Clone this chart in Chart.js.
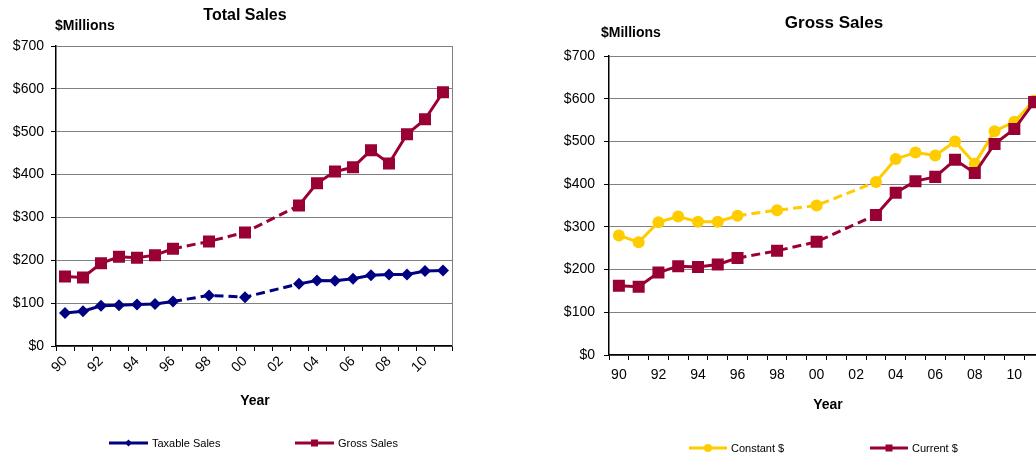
<!DOCTYPE html>
<html>
<head>
<meta charset="utf-8">
<title>Sales</title>
<script src="https://cdn.jsdelivr.net/npm/chart.js@4/dist/chart.umd.min.js"></script>
<style>
  html, body { margin: 0; padding: 0; background: #fff; overflow: hidden; }
  body { width: 1036px; height: 453px; position: relative; }
  #totalBox { position: absolute; left: 0; top: 0; }
  #grossBox { position: absolute; left: 560px; top: 0; }
</style>
</head>
<body>
<div id="totalBox"><canvas id="totalChart" width="470" height="453"></canvas></div>
<div id="grossBox"><canvas id="grossChart" width="500" height="453"></canvas></div>
<script>
// Fiscal years 1990-2011, two-digit labels
const years = ["90", "91", "92", "93", "94", "95", "96", "97", "98", "99", "00",
  "01", "02", "03", "04", "05", "06", "07", "08", "09", "10", "11"];

// $ millions, null where no figure was published
const taxableSales = [77, 81, 94, 95, 97, 98, 104, null, 118, null, 114,
  null, null, 145, 153, 152, 157, 165, 167, 167, 175, 176];
const grossSales = [162, 160, 193, 208, 206, 212, 227, null, 244, null, 265,
  null, null, 328, 380, 407, 417, 457, 426, 494, 529, 592];
const constantDollars = [280, 264, 311, 324, 312, 312, 326, null, 339, null, 350,
  null, null, 405, 459, 474, 467, 500, 448, 524, 546, 596];

const yTicks = [0, 100, 200, 300, 400, 500, 600, 700];

const FONT = "'Liberation Sans', Arial, sans-serif";
const MAROON = "#990033";
const NAVY = "#000080";
const GOLD = "#FFCC00";

// dashed where the line bridges missing years
const gapDash = (ctx) => (ctx.p0.skip || ctx.p1.skip ? [9, 5] : undefined);

function series(label, data, color, style, radius, order) {
  return {
    label: label,
    data: data,
    borderColor: color,
    backgroundColor: color,
    borderWidth: 3,
    pointStyle: style,
    pointRadius: radius,
    pointBorderWidth: 0,
    pointBackgroundColor: color,
    spanGaps: true,
    tension: 0,
    order: order,
    segment: { borderDash: gapDash },
  };
}

function drawMarker(ctx, style, x, y, r) {
  ctx.beginPath();
  if (style === "rect") {
    ctx.rect(x - r, y - r, 2 * r, 2 * r);
  } else if (style === "rectRot") {
    ctx.moveTo(x, y - r);
    ctx.lineTo(x + r, y);
    ctx.lineTo(x, y + r);
    ctx.lineTo(x - r, y);
    ctx.closePath();
  } else {
    ctx.arc(x, y, r, 0, Math.PI * 2);
  }
  ctx.fill();
}

// titles, unit label, axis title, legend and plot frame
const chartDecor = {
  id: "chartDecor",
  beforeDatasetsDraw(chart, args, opts) {
    if (!opts.frame) return;
    const { ctx, chartArea: a } = chart;
    ctx.save();
    ctx.strokeStyle = "#808080";
    ctx.lineWidth = 1;
    ctx.beginPath();
    ctx.moveTo(Math.round(a.right) + 0.5, a.top);
    ctx.lineTo(Math.round(a.right) + 0.5, a.bottom);
    ctx.stroke();
    ctx.restore();
  },
  afterDraw(chart, args, opts) {
    const { ctx } = chart;
    ctx.save();
    ctx.fillStyle = "#000";
    ctx.textBaseline = "middle";

    ctx.textAlign = "center";
    ctx.font = "bold " + opts.titleSize + "px " + FONT;
    ctx.fillText(opts.title, opts.titleX, opts.titleY);

    ctx.font = "bold 14px " + FONT;
    ctx.fillText("Year", opts.yearX, opts.yearY);

    ctx.textAlign = "left";
    ctx.fillText("$Millions", opts.unitX, opts.unitY);

    ctx.font = "11px " + FONT;
    opts.legend.forEach((item, i) => {
      const ds = chart.data.datasets[i];
      const y = opts.legendY;
      ctx.strokeStyle = ds.borderColor;
      ctx.fillStyle = ds.borderColor;
      ctx.lineWidth = 3;
      ctx.beginPath();
      ctx.moveTo(item.x0, y);
      ctx.lineTo(item.x1, y);
      ctx.stroke();
      drawMarker(ctx, ds.pointStyle, (item.x0 + item.x1) / 2, y, ds.pointStyle === "circle" ? 4 : 3.5);
      ctx.fillStyle = "#000";
      ctx.fillText(ds.label, item.x1 + 4, y + 1);
    });
    ctx.restore();
  },
};

function scales(yWidth, xHeight, rotated, yPad) {
  return {
    x: {
      offset: true,
      grid: {
        offset: true,
        drawOnChartArea: false,
        drawTicks: true,
        tickLength: 5,
        tickColor: "#000",
      },
      border: { color: "#000", width: 1.5 },
      ticks: {
        autoSkip: false,
        minRotation: rotated ? 45 : 0,
        maxRotation: rotated ? 45 : 0,
        padding: rotated ? 2 : 7,
        color: "#000",
        font: { family: FONT, size: 14 },
        callback: (v, i) => (i % 2 === 0 ? years[i] : ""),
      },
      afterFit: (s) => { s.height = xHeight; },
    },
    y: {
      min: yTicks[0],
      max: yTicks[yTicks.length - 1],
      afterBuildTicks: (s) => { s.ticks = yTicks.map((v) => ({ value: v })); },
      grid: { color: "#808080", lineWidth: 1, tickColor: "#000", tickLength: 5 },
      border: { color: "#000", width: 1.5 },
      ticks: {
        padding: yPad,
        color: "#000",
        font: { family: FONT, size: 14 },
        callback: (v) => "$" + v,
      },
      afterFit: (s) => { s.width = yWidth; },
    },
  };
}

new Chart(document.getElementById("totalChart"), {
  type: "line",
  data: {
    labels: years,
    datasets: [
      series("Taxable Sales", taxableSales, NAVY, "rectRot", 6, 0),
      series("Gross Sales", grossSales, MAROON, "rect", 8.5, 1),
    ],
  },
  options: {
    responsive: false,
    animation: false,
    events: [],
    layout: { padding: { top: 46, right: 18, left: 0, bottom: 0 } },
    scales: scales(56, 107, true, 7),
    plugins: {
      legend: { display: false },
      tooltip: { enabled: false },
      chartDecor: {
        frame: true,
        title: "Total Sales",
        titleSize: 16,
        titleX: 245,
        titleY: 16,
        unitX: 55,
        unitY: 26,
        yearX: 255,
        yearY: 401,
        legendY: 443,
        legend: [{ x0: 109, x1: 148 }, { x0: 295, x1: 334 }],
      },
    },
  },
  plugins: [chartDecor],
});

new Chart(document.getElementById("grossChart"), {
  type: "line",
  data: {
    labels: years,
    datasets: [
      series("Constant $", constantDollars, GOLD, "circle", 6, 1),
      series("Current $", grossSales, MAROON, "rect", 8.5, 0),
    ],
  },
  options: {
    responsive: false,
    animation: false,
    events: [],
    layout: { padding: { top: 56, right: 16, left: 0, bottom: 0 } },
    scales: scales(49, 98, false, 9),
    plugins: {
      legend: { display: false },
      tooltip: { enabled: false },
      chartDecor: {
        frame: false,
        title: "Gross Sales",
        titleSize: 17,
        titleX: 274,
        titleY: 23,
        unitX: 41,
        unitY: 33,
        yearX: 268,
        yearY: 405,
        legendY: 448,
        legend: [{ x0: 129, x1: 167 }, { x0: 310, x1: 348 }],
      },
    },
  },
  plugins: [chartDecor],
});
</script>
</body>
</html>
